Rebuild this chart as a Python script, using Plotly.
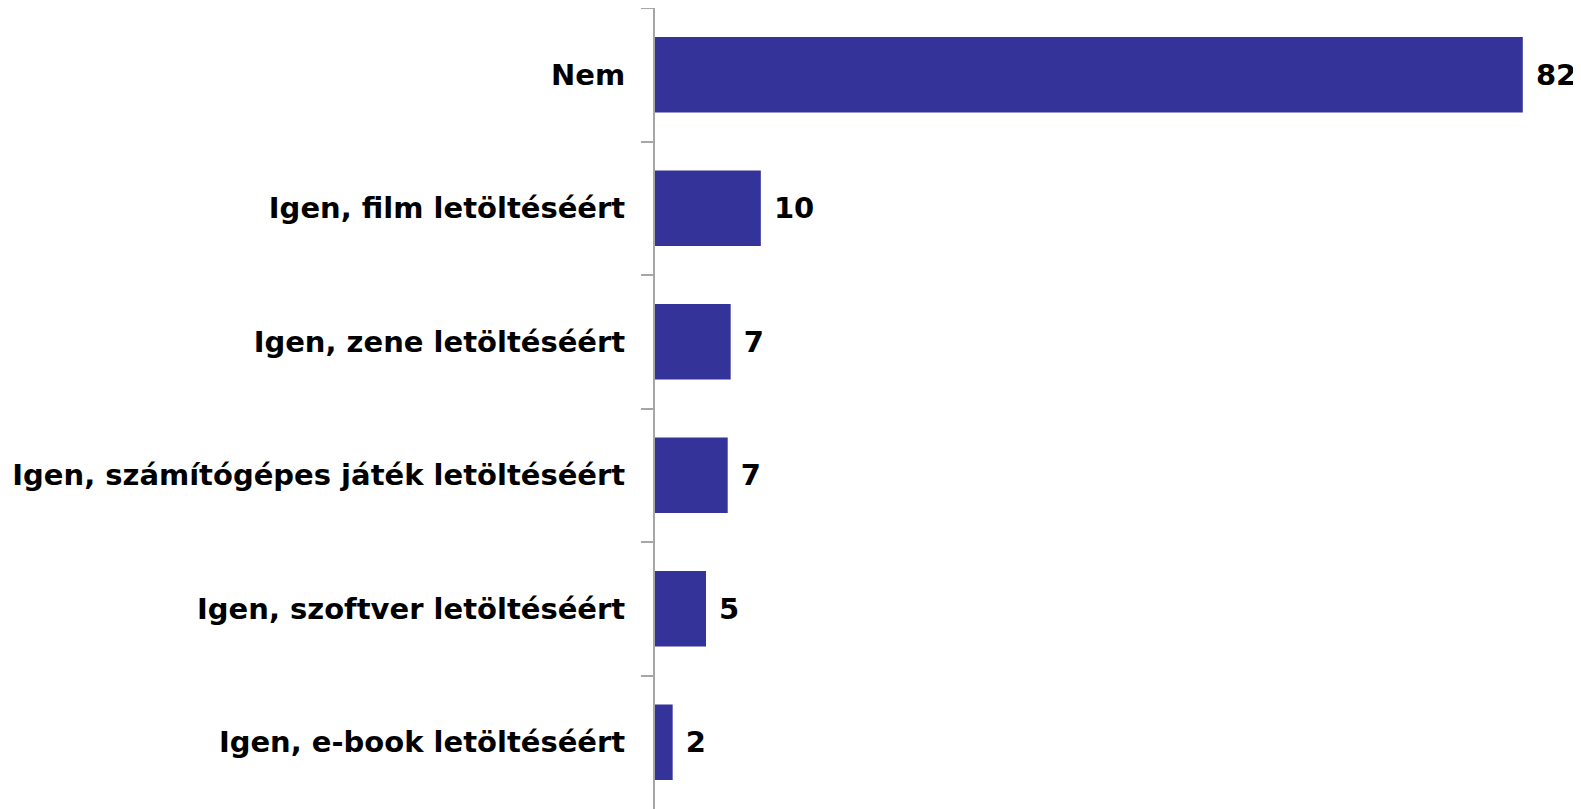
import plotly.graph_objects as go

categories = [
    "Nem",
    "Igen, film letöltéséért",
    "Igen, zene letöltéséért",
    "Igen, számítógépes játék letöltéséért",
    "Igen, szoftver letöltéséért",
    "Igen, e-book letöltéséért",
]
values = [82, 10.0, 7.15, 6.87, 4.82, 1.67]
labels = ["82", "10", "7", "7", "5", "2"]

BAR_COLOR = "#333399"
AXIS_GRAY = "#a6a6a6"
FONT = "DejaVu Sans"
FONT_SIZE = 29

# page body has the browser's default 8px margin, so the figure is drawn 8px in
fig = go.Figure(go.Bar(
    x=values, y=categories, orientation="h",
    marker=dict(color=BAR_COLOR, line=dict(width=0)),
    text=[" " + t for t in labels], textposition="outside",
    textfont=dict(family=FONT, size=FONT_SIZE, color="#000000", weight="bold"),
    cliponaxis=False,
    width=0.567,
))

fig.update_layout(
    width=1573, height=801,
    paper_bgcolor="white", plot_bgcolor="white",
    margin=dict(l=647, r=0, t=0, b=0),
    showlegend=False,
    font=dict(family=FONT, color="#000000"),
)
fig.update_xaxes(range=[0, 87.5], visible=False)
fig.update_yaxes(
    autorange="reversed",
    showline=True, linecolor=AXIS_GRAY, linewidth=2,
    ticks="outside", tickson="boundaries", ticklen=12, tickwidth=2, tickcolor=AXIS_GRAY,
    ticklabelstandoff=22,
    tickfont=dict(family=FONT, size=FONT_SIZE, color="#000000", weight="bold"),
    showgrid=False,
    automargin=False,
)

fig.write_html("out.html")
